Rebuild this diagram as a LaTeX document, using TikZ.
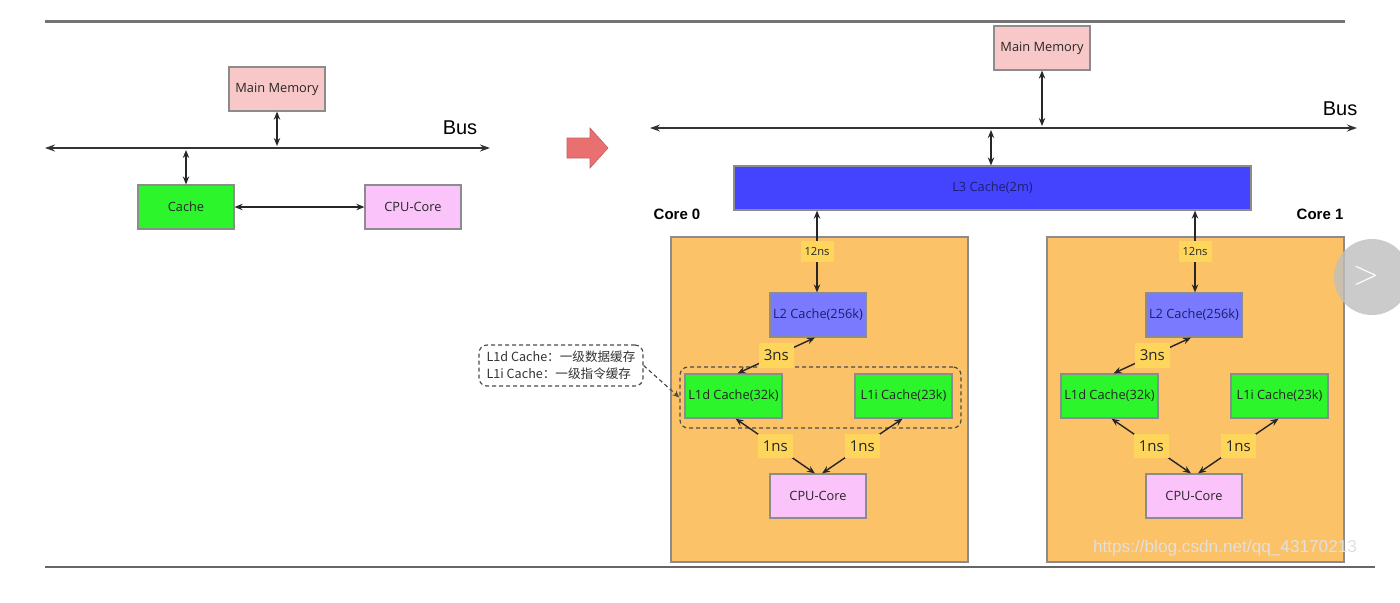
\documentclass[tikz,border=0pt]{standalone}
\usepackage{fontspec}
\setmainfont{Open Sans}
\newfontfamily\arialf{Liberation Sans}
\newfontfamily\cjkf{Noto Sans CJK SC}
\usetikzlibrary{arrows.meta,calc}
\definecolor{mmpink}{RGB}{248,200,200}
\definecolor{cgreen}{RGB}{44,245,44}
\definecolor{cpupink}{RGB}{250,196,250}
\definecolor{lthree}{RGB}{68,68,255}
\definecolor{ltwo}{RGB}{122,122,255}
\definecolor{corefill}{RGB}{252,194,104}
\definecolor{lblfill}{RGB}{255,214,92}
\definecolor{redarrow}{RGB}{232,112,112}
\definecolor{boxline}{RGB}{140,140,140}
\definecolor{bluetext}{RGB}{30,30,110}
\begin{document}
\begin{tikzpicture}[x=0.5pt,y=-0.5pt,
  box/.style={draw=boxline, line width=0.6pt, minimum width=48pt, minimum height=22pt, inner sep=0pt, font=\fontsize{6.4}{7}\selectfont, text=black!85},
  wbox/.style={box, minimum width=48.5pt},
  dbl/.style={{Stealth[length=4pt,width=3.2pt]}-{Stealth[length=4pt,width=3.2pt]}, line width=0.7pt, draw=black!85},
  bus/.style={{Stealth[length=5pt,width=3.5pt]}-{Stealth[length=5pt,width=3.5pt]}, line width=0.7pt, draw=black!80},
  lbl/.style={fill=lblfill, inner xsep=2.5pt, inner ysep=3.5pt, font=\fontsize{7.5}{8}\selectfont, text=black!85},
  slbl/.style={fill=lblfill, inner xsep=2pt, inner ysep=3pt, font=\fontsize{5.6}{6}\selectfont, text=black!85},
  corebox/.style={draw=boxline, line width=0.6pt, fill=corefill, minimum width=148.5pt, minimum height=162.5pt, inner sep=0pt},
  corelbl/.style={font=\arialf\bfseries\fontsize{7.5}{8}\selectfont},
  buslbl/.style={font=\arialf\fontsize{10}{11}\selectfont},
  grp/.style={draw=black!70, dash pattern=on 2pt off 1.5pt, line width=0.6pt, rounded corners=4pt, minimum width=140.5pt, minimum height=30.5pt, inner sep=0pt},
]
\clip (0,0) rectangle (1400,602);
\fill[white] (0,0) rectangle (1400,602);

% screenshot frame lines
\coordinate (tl) at (45,21); \coordinate (tr) at (1345,21);
\draw[line width=1.5pt, draw=black!55] (tl) -- (tr);
\coordinate (bl) at (45,567); \coordinate (br) at (1375,567);
\draw[line width=0.8pt, draw=black!60] (bl) -- (br);

% ---------------- left diagram ----------------
\node[box, fill=mmpink] (mmL) at (277,89) {Main Memory};
\node[box, fill=cgreen] (cacheL) at (186,207) {Cache};
\node[box, fill=cpupink] (cpuL) at (413,207) {CPU-Core};
\coordinate (busLl) at (45,148);
\coordinate (busLr) at (490,148);
\draw[bus] (busLl) -- (busLr);
\node[buslbl] (busLlbl) at (460,128) {Bus};
\coordinate (busLm) at (277,146);
\coordinate (busLc) at (186,150);
\draw[dbl] (mmL.south) -- (busLm);
\draw[dbl] (busLc) -- (cacheL.north);
\draw[dbl] (cacheL.east) -- (cpuL.west);

% red arrow
\fill[redarrow, draw=redarrow!85!black, line width=0.3pt]
  (567,138) -- (590,138) -- (590,128) -- (608,148) -- (590,168) -- (590,158) -- (567,158) -- cycle;

% ---------------- right diagram ----------------
\node[box, fill=mmpink] (mmR) at (1042,48) {Main Memory};
\coordinate (busRl) at (650,128);
\coordinate (busRr) at (1357,128);
\draw[bus] (busRl) -- (busRr);
\node[buslbl] (busRlbl) at (1340,109) {Bus};
\coordinate (busRm) at (1042,126);
\draw[dbl] (mmR.south) -- (busRm);
\node[box, fill=lthree, minimum width=258.5pt, text=bluetext] (l3) at (992.5,188) {L3 Cache(2m)};
\coordinate (busRc) at (991,130);
\draw[dbl] (busRc) -- (l3.north -| busRc);

\node[corelbl] (c0lbl) at (677,214) {Core 0};
\node[corelbl] (c1lbl) at (1320,214) {Core 1};

\node[corebox] (core0) at (819.5,399.5) {};
\node[corebox] (core1) at (1195.5,399.5) {};

% core 0
\node[box, fill=ltwo, text=bluetext] (l2a) at (818,315) {L2 Cache(256k)};
\node[wbox, fill=cgreen] (l1da) at (733.5,396) {L1d Cache(32k)};
\node[wbox, fill=cgreen] (l1ia) at (903.5,396) {L1i Cache(23k)};
\node[box, fill=cpupink] (cpua) at (818,496) {CPU-Core};
\node[grp] (grpa) at (820.5,397.5) {};
\draw[dbl] ($(l2a.north)+(-1,0)$) -- node[slbl]{12ns} ($(l3.south -| l2a.north)+(-1,0)$);
\draw[dbl] ($(l2a.south)+(-3,0)$) -- node[lbl]{3ns} ($(l1da.north)+(4,0)$);
\draw[dbl] ($(l1da.south)+(2,0)$) -- node[lbl]{1ns} ($(cpua.north)+(-3,0)$);
\draw[dbl] ($(l1ia.south)+(-1,0)$) -- node[lbl]{1ns} ($(cpua.north)+(4,0)$);

% core 1
\node[box, fill=ltwo, text=bluetext] (l2b) at (1194,315) {L2 Cache(256k)};
\node[wbox, fill=cgreen] (l1db) at (1109.5,396) {L1d Cache(32k)};
\node[wbox, fill=cgreen] (l1ib) at (1279.5,396) {L1i Cache(23k)};
\node[box, fill=cpupink] (cpub) at (1194,496) {CPU-Core};
\draw[dbl] ($(l2b.north)+(1,0)$) -- node[slbl]{12ns} ($(l3.south -| l2b.north)+(1,0)$);
\draw[dbl] ($(l2b.south)+(-3,0)$) -- node[lbl]{3ns} ($(l1db.north)+(4,0)$);
\draw[dbl] ($(l1db.south)+(2,0)$) -- node[lbl]{1ns} ($(cpub.north)+(-3,0)$);
\draw[dbl] ($(l1ib.south)+(-1,0)$) -- node[lbl]{1ns} ($(cpub.north)+(4,0)$);

% note
\node[draw=black!70, dash pattern=on 2pt off 1.5pt, line width=0.6pt, rounded corners=4pt,
  minimum width=82pt, minimum height=20.5pt, inner sep=2pt, align=left, text=black!80,
  font=\cjkf\fontsize{6.3}{8.5}\selectfont] (note) at (561,365.5)
  {L1d Cache：一级数据缓存\\L1i Cache：一级指令缓存};
\draw[draw=black!70, dash pattern=on 2pt off 1.5pt, line width=0.6pt, -{Stealth[length=3.5pt,width=3pt]}]
  (note.east) -- (grpa.west);

% UI circle button
\fill[black!25, opacity=0.8] (1372,277) circle [radius=38];
\node[text=white, font=\arialf\fontsize{16}{16}\selectfont] (chev) at (1366,276) {$>$};

% watermark
\node[text=white!88!black, font=\arialf\fontsize{8.6}{9}\selectfont] (wm) at (1225,548) {https://blog.csdn.net/qq\_43170213};
\end{tikzpicture}
\end{document}
